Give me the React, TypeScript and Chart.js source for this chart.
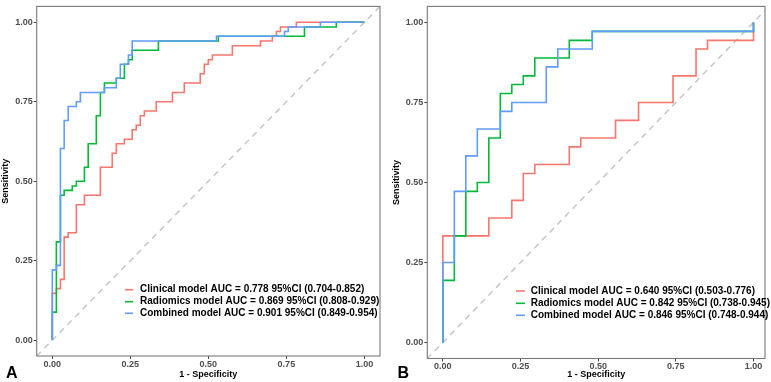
import React, { useEffect, useRef } from "react";
import { Chart, registerables } from "chart.js";

Chart.register(...registerables);

const FONT = "'Liberation Sans', Arial, Helvetica, sans-serif";

const modelNames = ["Clinical model", "Radiomics model", "Combined model"];
const modelColors = ["#F8766D", "#00BA38", "#619CFF"];
const axisTicks = [0, 0.25, 0.5, 0.75, 1];
const diagonal = [-0.1, 1.1];

// Panel A: ROC corner points (the curve steps right, then up to each point)
const clinicalFprA = [0, 0, 0.013, 0.026, 0.038, 0.051, 0.077, 0.103, 0.154, 0.192, 0.205, 0.231, 0.256, 0.269, 0.282, 0.295, 0.333, 0.385, 0.423, 0.474, 0.487, 0.5, 0.513, 0.577, 0.667, 0.705, 0.718, 0.731, 0.782, 1];
const clinicalTprA = [0, 0.147, 0.162, 0.191, 0.324, 0.338, 0.426, 0.456, 0.544, 0.588, 0.618, 0.632, 0.662, 0.676, 0.706, 0.721, 0.75, 0.779, 0.809, 0.838, 0.868, 0.882, 0.897, 0.926, 0.941, 0.956, 0.971, 0.985, 1, 1];
const radiomicsFprA = [0, 0, 0.013, 0.026, 0.038, 0.064, 0.077, 0.103, 0.115, 0.141, 0.154, 0.167, 0.205, 0.231, 0.244, 0.256, 0.34, 0.532, 0.808, 0.91, 1];
const radiomicsTprA = [0, 0.088, 0.309, 0.456, 0.471, 0.485, 0.5, 0.544, 0.618, 0.706, 0.779, 0.809, 0.824, 0.868, 0.882, 0.912, 0.941, 0.956, 0.985, 1, 1];
const combinedFprA = [0, 0, 0.013, 0.026, 0.038, 0.051, 0.077, 0.09, 0.167, 0.205, 0.218, 0.244, 0.256, 0.526, 0.744, 0.756, 0.859, 1];
const combinedTprA = [0, 0.221, 0.235, 0.603, 0.691, 0.735, 0.75, 0.779, 0.794, 0.824, 0.868, 0.897, 0.941, 0.956, 0.971, 0.985, 1, 1];
const aucA = ["0.778", "0.869", "0.901"];
const ciA = ["0.704-0.852", "0.808-0.929", "0.849-0.954"];

// Panel B
const clinicalFprB = [0, 0, 0.148, 0.222, 0.259, 0.296, 0.407, 0.444, 0.556, 0.63, 0.741, 0.815, 0.852, 1];
const clinicalTprB = [0, 0.333, 0.389, 0.444, 0.528, 0.556, 0.611, 0.639, 0.694, 0.75, 0.833, 0.917, 0.944, 1];
const radiomicsFprB = [0, 0, 0.037, 0.074, 0.111, 0.148, 0.185, 0.222, 0.259, 0.296, 0.407, 0.481, 1];
const radiomicsTprB = [0, 0.194, 0.333, 0.472, 0.5, 0.639, 0.778, 0.806, 0.833, 0.889, 0.944, 0.972, 1];
const combinedFprB = [0, 0, 0.037, 0.074, 0.111, 0.185, 0.222, 0.333, 0.37, 0.481, 1];
const combinedTprB = [0, 0.25, 0.472, 0.583, 0.667, 0.722, 0.75, 0.861, 0.917, 0.972, 1];
const aucB = ["0.640", "0.842", "0.846"];
const ciB = ["0.503-0.776", "0.738-0.945", "0.748-0.944"];

type PanelSpec = {
  letter: string;
  left: number;
  width: number;
  yAxisWidth: number;
  xAxisHeight: number;
  padTop: number;
  padRight: number;
  xMax: number;
  yTitlePad: number;
  curves: { fpr: number[]; tpr: number[] }[];
  auc: string[];
  ci: string[];
  keyX0: number;
  keyX1: number;
  textX: number;
  rows: number[];
  letterX: number;
  letterY: number;
};

const panels: PanelSpec[] = [
  {
    letter: "A",
    left: 0,
    width: 385,
    yAxisWidth: 36.7,
    xAxisHeight: 26,
    padTop: 4.6,
    padRight: 5,
    xMax: 1.05,
    yTitlePad: 0.6,
    curves: [
      { fpr: clinicalFprA, tpr: clinicalTprA },
      { fpr: radiomicsFprA, tpr: radiomicsTprA },
      { fpr: combinedFprA, tpr: combinedTprA },
    ],
    auc: aucA,
    ci: ciA,
    keyX0: 125,
    keyX1: 133,
    textX: 140,
    rows: [289.7, 301.7, 313.3],
    letterX: 6,
    letterY: 378.3,
  },
  {
    letter: "B",
    left: 385,
    width: 386,
    yAxisWidth: 42.3,
    xAxisHeight: 23.5,
    padTop: 6,
    padRight: 6,
    xMax: 1.037,
    yTitlePad: 6.3,
    curves: [
      { fpr: clinicalFprB, tpr: clinicalTprB },
      { fpr: radiomicsFprB, tpr: radiomicsTprB },
      { fpr: combinedFprB, tpr: combinedTprB },
    ],
    auc: aucB,
    ci: ciB,
    keyX0: 131,
    keyX1: 140,
    textX: 145.7,
    rows: [291, 303.3, 315.3],
    letterX: 12.5,
    letterY: 377.7,
  },
];

function toPoints(fpr: number[], tpr: number[]) {
  return fpr.map((x, i) => ({ x, y: tpr[i] }));
}

function RocPanel({ spec }: { spec: PanelSpec }) {
  const ref = useRef<HTMLCanvasElement>(null);

  useEffect(() => {
    const canvas = ref.current;
    if (!canvas) return;

    const decor = {
      id: "panelDecor",
      afterDatasetsDraw(chart: any) {
        const { ctx, chartArea: a } = chart;
        ctx.save();
        ctx.strokeStyle = "#7a7a7a";
        ctx.lineWidth = 1.1;
        ctx.strokeRect(a.left, a.top, a.right - a.left, a.bottom - a.top);
        ctx.restore();
      },
      afterDraw(chart: any) {
        const ctx = chart.ctx;
        ctx.save();
        ctx.font = `bold 10px ${FONT}`;
        ctx.textBaseline = "middle";
        spec.rows.forEach((y, i) => {
          ctx.strokeStyle = modelColors[i];
          ctx.lineWidth = 1.6;
          ctx.beginPath();
          ctx.moveTo(spec.keyX0, y);
          ctx.lineTo(spec.keyX1, y);
          ctx.stroke();
          ctx.fillStyle = "#000";
          ctx.fillText(
            `${modelNames[i]} AUC = ${spec.auc[i]} 95%CI (${spec.ci[i]})`,
            spec.textX,
            y
          );
        });
        ctx.font = `bold 16px ${FONT}`;
        ctx.textBaseline = "alphabetic";
        ctx.fillStyle = "#000";
        ctx.fillText(spec.letter, spec.letterX, spec.letterY);
        ctx.restore();
      },
    };

    const curveSets = spec.curves.map((c, i) => ({
      label: modelNames[i],
      data: toPoints(c.fpr, c.tpr),
      borderColor: modelColors[i],
      borderWidth: 1.6,
      pointRadius: 0,
      stepped: "before" as const,
      fill: false,
      order: 2 - i,
    }));

    const tickFont = { family: FONT, size: 9, weight: "bold" as const, lineHeight: 1.2 };
    const titleFont = { family: FONT, size: 9, weight: "bold" as const, lineHeight: 1.2 };
    const setTicks = (scale: any) => {
      scale.ticks = axisTicks.map((v) => ({ value: v }));
    };

    const chart = new Chart(canvas, {
      type: "line",
      data: {
        datasets: [
          ...curveSets,
          {
            label: "reference",
            data: toPoints(diagonal, diagonal),
            borderColor: "#c6c6c6",
            borderWidth: 1.5,
            borderDash: [6, 5],
            pointRadius: 0,
            fill: false,
            clip: 0,
            order: 3,
          },
        ],
      },
      options: {
        animation: false,
        responsive: false,
        events: [],
        layout: {
          padding: { left: 0, top: spec.padTop, right: spec.padRight, bottom: 0 },
        },
        plugins: {
          legend: { display: false },
          tooltip: { enabled: false },
        },
        scales: {
          x: {
            type: "linear",
            min: -0.05,
            max: spec.xMax,
            afterBuildTicks: setTicks,
            afterFit: (scale: any) => {
              scale.height = spec.xAxisHeight;
            },
            grid: {
              display: true,
              drawOnChartArea: false,
              drawTicks: true,
              tickLength: 3,
              color: "#444",
            },
            border: { display: false },
            ticks: {
              autoSkip: false,
              maxRotation: 0,
              padding: 0,
              color: "#4d4d4d",
              font: tickFont,
              callback: (v: any) => Number(v).toFixed(2),
            },
            title: {
              display: true,
              text: "1 - Specificity",
              color: "#000",
              font: titleFont,
              padding: { top: 0, bottom: 2.3 },
            },
          },
          y: {
            type: "linear",
            min: -0.05,
            max: 1.05,
            afterBuildTicks: setTicks,
            afterFit: (scale: any) => {
              scale.width = spec.yAxisWidth;
            },
            grid: {
              display: true,
              drawOnChartArea: false,
              drawTicks: true,
              tickLength: 3,
              color: "#444",
            },
            border: { display: false },
            ticks: {
              autoSkip: false,
              padding: 1,
              color: "#4d4d4d",
              font: tickFont,
              callback: (v: any) => Number(v).toFixed(2),
            },
            title: {
              display: true,
              text: "Sensitivity",
              color: "#000",
              font: titleFont,
              padding: { top: spec.yTitlePad, bottom: 0 },
            },
          },
        },
      },
      plugins: [decor],
    });

    return () => chart.destroy();
  }, [spec]);

  return (
    <canvas
      ref={ref}
      width={spec.width}
      height={382}
      style={{
        position: "absolute",
        left: spec.left,
        top: 0,
        width: spec.width,
        height: 382,
      }}
    />
  );
}

export default function App() {
  return (
    <div
      style={{
        position: "absolute",
        left: 0,
        top: 0,
        width: 771,
        height: 382,
        background: "#fff",
        overflow: "hidden",
      }}
    >
      {panels.map((p) => (
        <RocPanel key={p.letter} spec={p} />
      ))}
    </div>
  );
}
